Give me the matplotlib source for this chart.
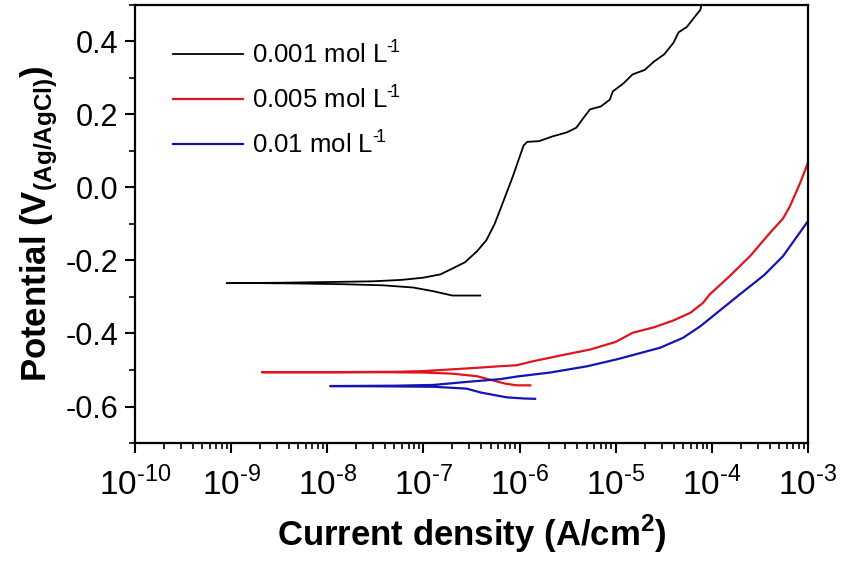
import math
import matplotlib
matplotlib.use("Agg")
import matplotlib.pyplot as plt
from matplotlib.ticker import FixedLocator, MultipleLocator, LogLocator, FuncFormatter, NullFormatter

# === Data ===
# each curve: cathodic tail -> corrosion point -> anodic branch
i_001 = [3.9e-7, 2.0e-7, 1.26e-7, 7.8e-8, 3.8e-8, 1.5e-8, 5e-9, 2e-9, 9e-10,
         3e-9, 1e-8, 3e-8, 6e-8, 1e-7, 1.5e-7, 1.9e-7, 2.7e-7, 3.6e-7, 4.5e-7,
         5.5e-7, 6.3e-7, 8.5e-7, 1.1e-6, 1.2e-6, 1.6e-6, 2.2e-6, 3.1e-6, 3.9e-6,
         4.6e-6, 5.4e-6, 7e-6, 8.7e-6, 9.3e-6, 1.2e-5, 1.5e-5, 2.0e-5, 2.5e-5,
         3.2e-5, 4.0e-5, 4.5e-5, 5.5e-5, 6.3e-5, 7.6e-5, 7.9e-5]
e_001 = [-0.296, -0.296, -0.284, -0.274, -0.268, -0.265, -0.263, -0.262, -0.262,
         -0.261, -0.259, -0.257, -0.253, -0.247, -0.238, -0.225, -0.205, -0.175, -0.145,
         -0.100, -0.060, 0.030, 0.115, 0.125, 0.127, 0.140, 0.151, 0.164,
         0.190, 0.214, 0.222, 0.241, 0.263, 0.285, 0.310, 0.322, 0.345,
         0.365, 0.397, 0.425, 0.440, 0.460, 0.487, 0.510]

i_005 = [1.29e-6, 9.3e-7, 7e-7, 3.6e-7, 2e-7, 1e-7, 3e-8, 1e-8, 2.1e-9,
         1e-8, 5e-8, 1e-7, 3.6e-7, 6e-7, 9.3e-7, 1.38e-6, 2.7e-6, 5.4e-6,
         1.0e-5, 1.5e-5, 2.5e-5, 4e-5, 6e-5, 8.1e-5, 9.5e-5, 1.5e-4, 2.5e-4,
         4e-4, 5.5e-4, 6.5e-4, 8.3e-4, 1e-3]
e_005 = [-0.542, -0.542, -0.537, -0.517, -0.510, -0.507, -0.506, -0.506, -0.506,
         -0.506, -0.505, -0.503, -0.494, -0.490, -0.487, -0.476, -0.460, -0.444,
         -0.423, -0.398, -0.383, -0.364, -0.343, -0.316, -0.293, -0.245, -0.188,
         -0.125, -0.085, -0.051, 0.013, 0.068]

i_01 = [1.45e-6, 1.1e-6, 7.4e-7, 4e-7, 2.8e-7, 1.3e-7, 5e-8, 1.07e-8,
        5e-8, 1.26e-7, 3e-7, 6.3e-7, 9.3e-7, 2.07e-6, 5e-6, 1.02e-5, 2.9e-5,
        5e-5, 7.6e-5, 1.95e-4, 3.5e-4, 5.5e-4, 1e-3]
e_01 = [-0.579, -0.578, -0.575, -0.562, -0.551, -0.546, -0.545, -0.544,
        -0.543, -0.541, -0.532, -0.525, -0.518, -0.507, -0.490, -0.471, -0.439,
        -0.412, -0.380, -0.293, -0.240, -0.188, -0.092]

labels = ["0.001 mol L$^{\u2010\\!1}$", "0.005 mol L$^{\u2010\\!1}$", "0.01 mol L$^{\u2010\\!1}$"]
colors = ["black", "#e0141e", "#1414b4"]

# === Style ===
plt.rcParams["font.family"] = ["Liberation Sans", "DejaVu Sans"]
plt.rcParams["mathtext.fontset"] = "custom"
plt.rcParams["mathtext.rm"] = "Liberation Sans"
plt.rcParams["mathtext.bf"] = "Liberation Sans:bold"
plt.rcParams["axes.unicode_minus"] = False

fig = plt.figure(figsize=(8.41, 5.62), dpi=100)
ax = fig.add_axes([135 / 841, 1 - 443 / 562, 673 / 841, 438 / 562])

widths = [1.3, 1.6, 1.6]
for x, y, c, lab, w in zip([i_001, i_005, i_01], [e_001, e_005, e_01], colors, labels, widths):
    ax.plot(x, y, color=c, lw=w, label=lab)

ax.set_xscale("log")
ax.set_xlim(1e-10, 1e-3)
ax.set_ylim(-0.7, 0.5)

ax.xaxis.set_major_locator(FixedLocator([10.0 ** k for k in range(-10, -2)]))
ax.xaxis.set_minor_locator(LogLocator(base=10, subs=range(2, 10), numticks=20))
ax.xaxis.set_minor_formatter(NullFormatter())
ax.xaxis.set_major_formatter(FuncFormatter(lambda v, p: "10$^{\u2010%d}$" % -round(math.log10(v))))
ax.yaxis.set_major_locator(MultipleLocator(0.2))
ax.yaxis.set_minor_locator(MultipleLocator(0.1))
ax.yaxis.set_major_formatter(FuncFormatter(lambda v, p: "%.1f" % v))

for s in ax.spines.values():
    s.set_linewidth(1.6)
ax.tick_params(which="major", direction="out", length=7, width=1.5, labelsize=22, pad=5)
ax.tick_params(which="minor", direction="out", length=4, width=1.2)
ax.tick_params(axis="x", labelsize=24, pad=10)

ax.set_xlabel("Current density (A/cm$^{\\mathbf{2}}$)", fontsize=25, fontweight="bold", labelpad=8)
ax.set_ylabel("Potential (V$_{\\mathbf{(Ag/AgCl)}}$)", fontsize=25, fontweight="bold", labelpad=4)

ax.legend(loc="upper left", bbox_to_anchor=(0.0565, 0.921), frameon=False, fontsize=18.5,
          handlelength=2.72, handletextpad=0.35, labelspacing=0.67, borderpad=0, borderaxespad=0)

plt.savefig("out.png", dpi=100)
